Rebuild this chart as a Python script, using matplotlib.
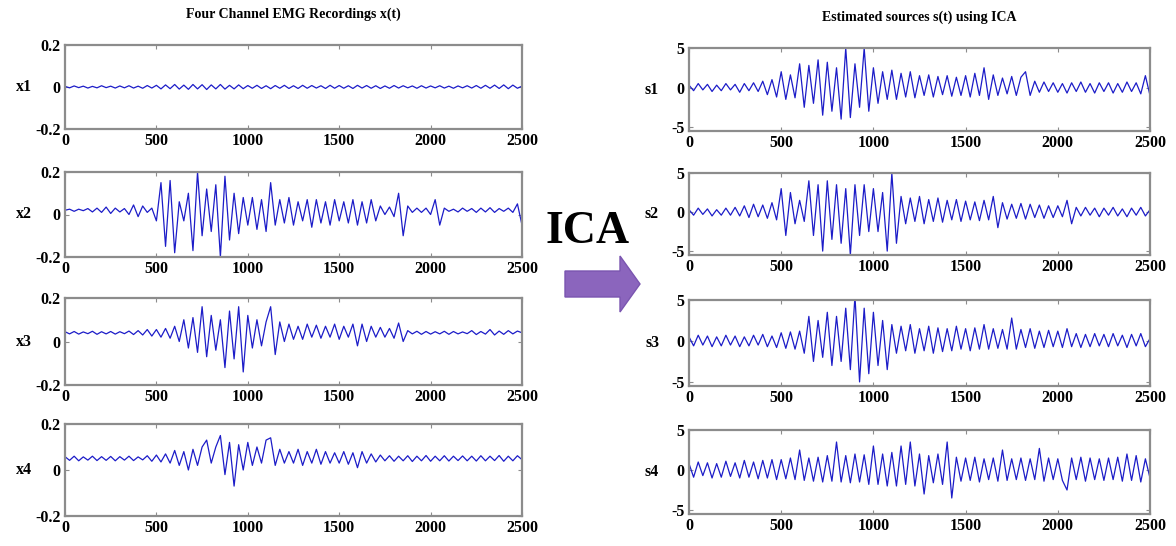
import numpy as np
import matplotlib
matplotlib.use('Agg')
import matplotlib.pyplot as plt
from matplotlib.patches import FancyArrow

# sample index, one reading every 25 samples
t = np.arange(0, 2501, 25)

# ---- four channel EMG recordings x(t) ----
x1 = [0.003,-0.004,0.005,-0.003,0.004,-0.005,0.003,-0.004,0.006,-0.003,
      0.004,-0.005,0.005,-0.004,0.006,-0.005,0.004,-0.006,0.007,-0.005,
      0.008,-0.009,0.010,-0.008,0.012,-0.010,0.009,-0.011,0.012,-0.009,
      0.011,-0.012,0.010,-0.009,0.012,-0.010,0.008,-0.009,0.010,-0.008,
      0.007,-0.006,0.008,-0.007,0.006,-0.008,0.007,-0.006,0.008,-0.007,
      0.006,-0.007,0.008,-0.006,0.007,-0.005,0.006,-0.007,0.008,-0.006,
      0.007,-0.006,0.006,-0.007,0.008,-0.005,0.007,-0.006,0.006,-0.007,
      0.005,-0.006,0.007,-0.005,0.006,-0.004,0.005,-0.006,0.006,-0.005,
      0.005,-0.004,0.006,-0.005,0.004,-0.006,0.005,-0.004,0.006,-0.005,
      0.007,-0.006,0.008,-0.006,0.009,-0.007,0.010,-0.008,0.009,-0.006,
      0.004]
x2 = [0.02,0.025,0.015,0.025,0.018,0.028,0.012,0.03,0.01,0.035,
      0.005,0.03,0.012,0.028,0.0,0.045,-0.01,0.04,0.01,0.03,
      -0.03,0.15,-0.15,0.16,-0.18,0.06,-0.03,0.1,-0.17,0.2,
      -0.1,0.12,-0.08,0.14,-0.2,0.18,-0.12,0.1,-0.09,0.08,
      -0.05,0.08,-0.07,0.07,-0.08,0.15,-0.05,0.07,-0.04,0.08,
      -0.05,0.06,-0.03,0.07,-0.06,0.07,-0.04,0.06,-0.05,0.07,
      -0.03,0.06,-0.04,0.07,-0.05,0.06,-0.04,0.07,-0.03,0.04,
      0.0,0.035,-0.01,0.1,-0.1,0.04,0.01,0.03,0.01,0.03,
      0.0,0.07,-0.05,0.03,0.015,0.025,0.012,0.03,0.015,0.028,
      0.01,0.03,0.012,0.032,0.01,0.028,0.015,0.03,0.01,0.05,
      -0.05]
x3 = [0.045,0.035,0.046,0.034,0.044,0.036,0.047,0.033,0.045,0.035,
      0.046,0.034,0.045,0.036,0.048,0.032,0.05,0.03,0.055,0.025,
      0.055,0.02,0.06,0.015,0.07,0.0,0.1,-0.03,0.11,-0.05,
      0.16,-0.07,0.12,-0.04,0.1,-0.12,0.14,-0.08,0.16,-0.14,
      0.12,-0.03,0.1,-0.02,0.09,0.16,-0.06,0.09,0.0,0.08,
      0.01,0.07,0.01,0.08,0.02,0.075,0.015,0.07,0.02,0.08,
      0.01,0.07,0.02,0.08,-0.02,0.08,0.0,0.07,0.02,0.065,
      0.02,0.06,0.015,0.085,0.0,0.05,0.035,0.047,0.033,0.046,
      0.034,0.045,0.035,0.047,0.033,0.046,0.035,0.044,0.036,0.05,
      0.032,0.046,0.034,0.055,0.03,0.048,0.033,0.05,0.035,0.048,
      0.04]
x4 = [0.058,0.042,0.06,0.04,0.057,0.043,0.06,0.041,0.058,0.042,
      0.059,0.04,0.058,0.043,0.06,0.041,0.057,0.044,0.062,0.038,
      0.065,0.035,0.07,0.03,0.085,0.02,0.08,0.0,0.09,0.02,
      0.1,0.13,0.03,0.1,0.15,-0.02,0.12,-0.07,0.11,0.0,
      0.12,0.02,0.1,0.03,0.13,0.14,0.02,0.09,0.03,0.08,
      0.03,0.09,0.02,0.08,0.03,0.09,0.025,0.08,0.03,0.075,
      0.03,0.08,0.025,0.075,0.01,0.08,0.03,0.07,0.035,0.065,
      0.04,0.062,0.038,0.06,0.04,0.062,0.037,0.06,0.04,0.063,
      0.038,0.06,0.04,0.062,0.039,0.06,0.041,0.061,0.04,0.06,
      0.039,0.062,0.04,0.06,0.041,0.063,0.038,0.06,0.04,0.062,
      0.045]

# ---- estimated sources s(t) ----
s1 = [0.3,-0.4,0.5,-0.3,0.4,-0.5,0.3,-0.4,0.5,-0.3,
      0.4,-0.6,0.5,-0.4,0.6,-0.5,0.8,-0.9,1.0,-1.2,
      2.0,-1.5,1.6,-1.3,3.0,-2.5,2.8,-2.0,3.5,-3.5,
      3.2,-3.0,2.5,-4.0,5.0,-3.8,3.0,-2.5,5.0,-3.0,
      2.5,-2.0,2.0,-1.5,2.2,-1.5,1.8,-1.2,2.0,-1.3,
      1.5,-1.0,1.6,-1.2,1.4,-0.9,1.5,-1.1,1.3,-1.0,
      1.5,-1.2,1.8,-1.0,2.5,-1.5,1.6,-1.0,1.2,-0.8,
      1.4,-1.0,1.3,2.0,-1.0,0.8,-0.6,0.7,-0.5,0.6,
      -0.6,0.5,-0.7,0.6,-0.5,0.7,-0.6,0.5,-0.7,0.6,
      -0.5,0.6,-0.7,0.5,-0.6,0.7,-0.5,0.6,-0.8,1.5,
      -1.0]
s2 = [0.3,-0.4,0.5,-0.3,0.4,-0.5,0.3,-0.4,0.5,-0.4,
      0.6,-0.5,0.8,-0.7,1.0,-0.6,0.9,-0.8,1.2,-1.0,
      3.0,-3.0,2.5,-1.5,1.5,-1.2,4.0,-3.0,3.5,-5.0,
      4.0,-3.5,3.5,-4.0,3.0,-5.5,3.5,-3.0,3.5,-2.5,
      3.0,-2.5,2.5,-5.0,5.0,-4.0,2.0,-1.5,1.8,-1.2,
      2.0,-1.5,1.6,-1.2,1.8,-1.3,1.5,-1.0,1.6,-1.2,
      1.4,-1.0,1.3,-1.1,1.5,-1.0,2.0,-2.0,1.2,-0.9,
      1.0,-0.8,1.1,-0.9,1.0,-0.7,0.9,-0.8,0.8,-0.7,
      0.8,-0.6,1.5,-1.5,0.6,-0.5,0.6,-0.4,0.5,-0.6,
      0.5,-0.4,0.6,-0.5,0.4,-0.6,0.5,-0.4,0.6,-0.5,
      0.3]
s3 = [0.5,-0.6,0.7,-0.5,0.6,-0.7,0.5,-0.6,0.7,-0.5,
      0.6,-0.7,0.5,-0.6,0.7,-0.5,0.8,-0.7,0.6,-0.8,
      1.0,-0.9,1.1,-1.0,1.2,-1.5,3.0,-2.5,2.5,-2.0,
      3.5,-3.0,3.0,-2.5,4.0,-3.5,5.5,-5.0,4.0,-4.0,
      3.5,-3.0,2.5,-3.5,2.0,-1.5,1.8,-1.2,2.0,-1.5,
      1.5,-1.2,1.8,-1.5,1.6,-1.3,1.5,-1.2,1.8,-1.0,
      1.5,-1.2,1.6,-1.0,2.0,-1.0,1.5,-0.9,1.4,-1.0,
      2.8,-1.0,1.4,-0.8,1.5,-0.9,1.2,-0.8,1.3,-0.7,
      1.2,-0.8,1.5,-0.7,0.9,-0.8,0.8,-0.7,0.9,-0.6,
      0.8,-0.7,0.9,-0.6,0.7,-0.8,0.8,-0.6,0.9,-0.7,
      0.3]
s4 = [0.8,-0.9,1.0,-0.7,0.9,-1.0,0.8,-0.9,1.1,-0.8,
      0.9,-1.0,1.2,-0.9,1.0,-1.1,1.2,-1.0,1.3,-1.2,
      1.3,-1.1,1.5,-1.2,2.5,-1.3,1.5,-1.4,1.6,-1.5,
      1.8,-1.4,3.5,-1.5,1.8,-1.6,2.0,-1.5,1.9,-1.8,
      3.0,-1.8,2.0,-2.0,2.2,-2.0,3.0,-1.8,3.5,-2.0,
      2.0,-3.0,1.8,-1.6,2.0,-1.8,3.5,-3.5,1.6,-1.4,
      1.5,-1.3,1.6,-1.5,1.4,-1.2,1.5,-1.4,2.5,-1.3,
      1.4,-1.2,1.5,-1.3,1.4,-1.2,2.7,-1.4,1.5,-1.2,
      1.4,-1.3,-2.5,1.5,-1.2,1.6,-1.4,1.5,-1.2,1.4,
      -1.3,1.5,-1.2,1.6,-1.4,2.0,-1.3,1.8,-1.5,1.4,
      -1.0]

left_series = [x1, x2, x3, x4]
left_names = ['x1', 'x2', 'x3', 'x4']
right_series = [s1, s2, s3, s4]
right_names = ['s1', 's2', 's3', 's4']
xticks = [0, 500, 1000, 1500, 2000, 2500]

W, H = 1176, 546
serif = 'Liberation Serif'
line_col = '#1c1cc8'
spine_col = '#8c8c8c'

fig = plt.figure(figsize=(W / 100, H / 100), dpi=100)

# axes boxes in pixels: (left, top, right, bottom)
left_boxes = [(65, 45, 522, 129), (65, 172, 522, 257), (65, 298, 522, 385), (65, 424, 522, 516)]
right_boxes = [(689, 48, 1150, 131), (689, 173, 1150, 255), (689, 300, 1150, 386), (689, 430, 1150, 514)]


def px_axes(box):
    l, tp, r, b = box
    return fig.add_axes([l / W, (H - b) / H, (r - l) / W, (b - tp) / H])


def style(ax, ylim, yticks, ylabels, name, pad):
    ax.set_xlim(0, 2500)
    ax.set_ylim(*ylim)
    ax.set_xticks(xticks)
    ax.set_xticklabels([str(v) for v in xticks])
    ax.set_yticks(yticks)
    ax.set_yticklabels(ylabels)
    for sp in ax.spines.values():
        sp.set_color(spine_col)
        sp.set_linewidth(1.6)
    ax.tick_params(direction='in', length=3, color=spine_col, width=0.8,
                   top=True, right=True, pad=3)
    for lab in ax.get_xticklabels() + ax.get_yticklabels():
        lab.set_fontfamily(serif)
        lab.set_fontweight('bold')
        lab.set_fontsize(11.5)
    ax.set_ylabel(name, rotation=0, fontfamily=serif, fontweight='bold',
                  fontsize=11.5, labelpad=pad, va='center')


for box, ys, nm in zip(left_boxes, left_series, left_names):
    ax = px_axes(box)
    ax.plot(t, ys, color=line_col, lw=0.9)
    style(ax, (-0.2, 0.2), [-0.2, 0, 0.2], ['-0.2', '0', '0.2'], nm, 8)

for box, ys, nm in zip(right_boxes, right_series, right_names):
    ax = px_axes(box)
    ax.plot(t, ys, color=line_col, lw=0.9)
    style(ax, (-5.5, 5), [-5, 0, 5], ['-5', '0', '5'], nm, 14)

fig.text((65 + 522) / 2 / W, 1 - 14 / H, 'Four Channel EMG Recordings x(t)',
         ha='center', va='center', fontfamily=serif, fontweight='bold', fontsize=10)
fig.text((689 + 1150) / 2 / W, 1 - 17 / H, 'Estimated sources s(t) using ICA',
         ha='center', va='center', fontfamily=serif, fontweight='bold', fontsize=10)

# ICA label and arrow between the two panels
fig.text(588 / W, 1 - 232 / H, 'ICA', ha='center', va='center',
         fontfamily=serif, fontweight='bold', fontsize=33)
arrow = FancyArrow(565 / W, 1 - 284 / H, 55 / W, 0, width=26 / H,
                   head_width=56 / H, head_length=20 / W,
                   length_includes_head=False, transform=fig.transFigure,
                   color='#8b65bd', ec='#7a55b0')
fig.patches.append(arrow)

fig.savefig('out.png', dpi=100, facecolor='white')
